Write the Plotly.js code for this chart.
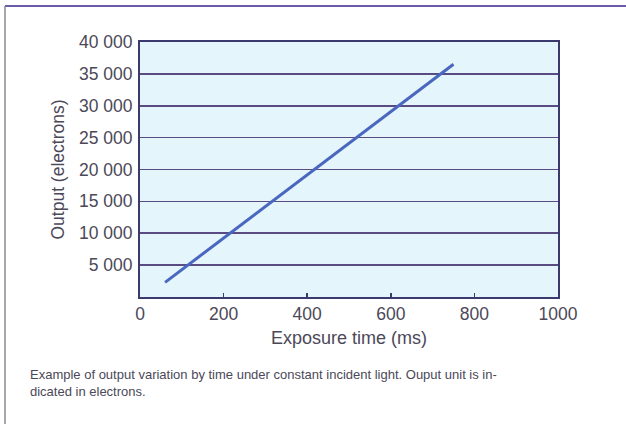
<!DOCTYPE html>
<html>
<head>
<meta charset="utf-8">
<script src="https://cdn.plot.ly/plotly-3.0.1.min.js"></script>
<style>
html,body{margin:0;padding:0;background:#fff;}
#chart{width:626px;height:424px;}
</style>
</head>
<body>
<div id="chart"></div>
<script>
// Data
var exposureMs = [60, 750];
var outputElectrons = [2300, 36500];
var yTickVals = [5000, 10000, 15000, 20000, 25000, 30000, 35000, 40000];
var yTickText = ["5 000", "10 000", "15 000", "20 000", "25 000", "30 000", "35 000", "40 000"];
var xTickVals = [0, 200, 400, 600, 800, 1000];
var xTickText = ["0", "200", "400", "600", "800", "1000"];
var xTitle = "Exposure time (ms)";
var yTitle = "Output (electrons)";
var caption = "Example of output variation by time under constant incident light. Ouput unit is in-<br>dicated in electrons.";

var W = 626, H = 424, L = 140, R = 68, T = 42, B = 127;
var pw = W - L - R, ph = H - T - B;
function px(x){ return (x - L) / pw; }
function py(y){ return (H - B - y) / ph; }

var textColor = "#4b4858";
var trace = {
  x: exposureMs, y: outputElectrons, type: "scatter", mode: "lines",
  line: {color: "#4a67c0", width: 3}, hoverinfo: "skip"
};

var layout = {
  width: W, height: H,
  margin: {l: L, r: R, t: T, b: B, pad: 0},
  paper_bgcolor: "#ffffff",
  plot_bgcolor: "#e4f5fb",
  showlegend: false,
  font: {family: "Liberation Sans, Arial, sans-serif", color: textColor, size: 17},
  xaxis: {
    range: [0, 1000], tickvals: xTickVals, ticktext: xTickText,
    showgrid: false, zeroline: false,
    showline: true, linecolor: "#3a3a6e", linewidth: 2, mirror: true,
    ticks: "inside", ticklen: 4, tickwidth: 1.5, tickcolor: "#3a3a6e",
    tickfont: {size: 17.5, color: textColor},
    title: {text: xTitle, font: {size: 18, color: textColor}, standoff: 8}
  },
  yaxis: {
    range: [0, 40000], tickvals: yTickVals, ticktext: yTickText,
    showgrid: true, gridcolor: "#5a4c82", gridwidth: 1.6, zeroline: false,
    showline: true, linecolor: "#3a3a6e", linewidth: 2, mirror: true,
    ticks: "", ticklabelstandoff: 2,
    tickfont: {size: 17.5, color: textColor},
    title: {text: yTitle, font: {size: 17.5, color: textColor}, standoff: 10}
  },
  annotations: [{
    xref: "paper", yref: "paper", x: px(28), y: py(365),
    xanchor: "left", yanchor: "top", align: "left", showarrow: false,
    text: caption, font: {size: 13, color: textColor}
  }],
  shapes: [
    {type: "line", xref: "paper", yref: "paper", x0: px(5), x1: px(626), y0: py(6), y1: py(6),
     line: {color: "#6a5aa8", width: 2}},
    {type: "line", xref: "paper", yref: "paper", x0: px(5), x1: px(5), y0: py(6), y1: py(424),
     line: {color: "#8a8890", width: 1.5}}
  ]
};

Plotly.newPlot("chart", [trace], layout, {staticPlot: true, displayModeBar: false});
</script>
</body>
</html>
